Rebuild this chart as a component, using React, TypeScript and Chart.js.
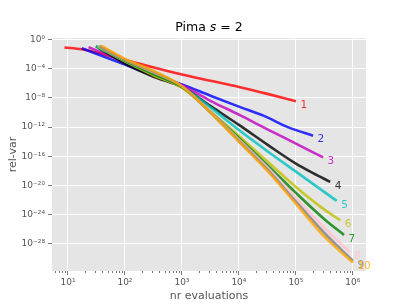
import { useEffect, useRef } from 'react';
import { Chart, registerables } from 'chart.js';

Chart.register(...registerables);

// ---- data (x = nr evaluations, y = log10 of rel-var) ----
const evals1 = [8.7, 17.5, 100, 1000, 3162, 1e4, 31623, 1e5];
const relVarLog1 = [-1.1, -1.35, -2.8, -4.8, -5.65, -6.5, -7.45, -8.45];

const evals2 = [17.5, 100, 316, 1000, 3162, 1e4, 26900, 74131, 2e5];
const relVarLog2 = [-1.2, -3.45, -4.9, -6.15, -7.7, -9.2, -10.43, -12.04, -13.18];

const evals3 = [23, 100, 316, 1000, 3162, 1e4, 31623, 1e5, 3e5];
const relVarLog3 = [-1.05, -3.1, -4.7, -6.25, -8.4, -10.3, -12.3, -14.25, -16.15];

const evals4 = [31, 100, 316, 1000, 3162, 1e4, 31623, 1e5, 2e5, 4e5];
const relVarLog4 = [-0.95, -3.3, -5.1, -6.5, -9.1, -11.7, -14.4, -17.0, -18.3, -19.5];

const evals5 = [31, 100, 316, 1000, 3162, 1e4, 31623, 1e5, 5.2e5];
const relVarLog5 = [-0.95, -3.0, -4.8, -6.5, -9.3, -12.4, -15.3, -18.1, -22.1];

const evals6 = [33, 100, 316, 1000, 3162, 1e4, 31623, 1e5, 3.16e5, 6e5];
const relVarLog6 = [-0.95, -3.0, -4.9, -6.6, -9.9, -13.2, -16.7, -20.2, -23.3, -24.75];

const evals7 = [35, 100, 316, 1000, 3162, 1e4, 31623, 1e5, 3.16e5, 7e5];
const relVarLog7 = [-0.9, -2.9, -4.7, -6.5, -9.9, -13.5, -17.2, -21.0, -24.6, -26.76];

const evals8 = [35, 100, 316, 1000, 3162, 1e4, 31623, 1e5, 3.16e5, 8.7e5];
const relVarLog8 = [-0.9, -2.8, -4.5, -6.4, -9.9, -13.7, -17.5, -21.7, -25.8, -29.1];

const evals9 = [36, 100, 316, 1000, 3162, 1e4, 31623, 1e5, 3.16e5, 1e6];
const relVarLog9 = [-0.9, -2.75, -4.4, -6.4, -10.0, -13.9, -17.8, -22.2, -26.5, -30.3];

const evals10 = [38, 100, 316, 1000, 3162, 1e4, 31623, 1e5, 3.16e5, 1e6];
const relVarLog10 = [-0.85, -2.65, -4.3, -6.4, -10.0, -14.0, -18.0, -22.5, -27.0, -30.55];

const seriesLabels = ['1', '2', '3', '4', '5', '6', '7', '8', '9', '10'];
const seriesEvals = [evals1, evals2, evals3, evals4, evals5, evals6, evals7, evals8, evals9, evals10];
const seriesRelVarLog = [
  relVarLog1, relVarLog2, relVarLog3, relVarLog4, relVarLog5,
  relVarLog6, relVarLog7, relVarLog8, relVarLog9, relVarLog10,
];
const seriesColors = [
  'rgba(255,0,0,0.8)',
  'rgba(0,0,255,0.8)',
  'rgba(191,0,191,0.8)',
  'rgba(0,0,0,0.8)',
  'rgba(0,191,191,0.8)',
  'rgba(191,191,0,0.8)',
  'rgba(0,128,0,0.8)',
  'rgba(255,192,203,0.8)',
  'rgba(128,128,128,0.8)',
  'rgba(255,165,0,0.8)',
];

const xTickExponents = [1, 2, 3, 4, 5, 6];
const yTickExponents = [0, -4, -8, -12, -16, -20, -24, -28];
const xRangeLog = [0.72, 6.23];
const yRangeLog = [-31.7, 0.2];

const titleMain = 'Pima ';
const titleVar = 's';
const titleRest = ' = 2';
const xTitle = 'nr evaluations';
const yTitle = 'rel-var';

const SUP: Record<string, string> = {
  '0': '⁰', '1': '¹', '2': '²', '3': '³', '4': '⁴', '5': '⁵',
  '6': '⁶', '7': '⁷', '8': '⁸', '9': '⁹', '-': '⁻',
};
const pow10Label = (v: number) => {
  const e = Math.round(Math.log10(v));
  return '10' + String(e).split('').map((c) => SUP[c] || c).join('');
};

const FONT = "'DejaVu Sans', sans-serif";

const decorPlugin = {
  id: 'decor',
  beforeDraw(chart: any) {
    const { ctx, chartArea } = chart;
    ctx.save();
    ctx.fillStyle = '#ffffff';
    ctx.fillRect(0, 0, chart.width, chart.height);
    ctx.fillStyle = '#E5E5E5';
    ctx.fillRect(chartArea.left, chartArea.top, chartArea.right - chartArea.left, chartArea.bottom - chartArea.top);
    ctx.restore();
  },
  afterDraw(chart: any) {
    const { ctx, chartArea, scales } = chart;
    const xs = scales.x;
    const ys = scales.y;
    ctx.save();
    // minor x ticks
    ctx.strokeStyle = '#555555';
    ctx.lineWidth = 0.8;
    for (let k = 0; k <= 6; k++) {
      for (let m = 2; m <= 9; m++) {
        const v = m * Math.pow(10, k);
        const px = xs.getPixelForValue(v);
        if (px < chartArea.left || px > chartArea.right) continue;
        ctx.beginPath();
        ctx.moveTo(Math.round(px) + 0.5, chartArea.bottom);
        ctx.lineTo(Math.round(px) + 0.5, chartArea.bottom + 2);
        ctx.stroke();
      }
    }
    // curve end labels
    ctx.font = `10.5px ${FONT}`;
    ctx.textAlign = 'left';
    ctx.textBaseline = 'middle';
    seriesLabels.forEach((lab, i) => {
      const ev = seriesEvals[i];
      const lg = seriesRelVarLog[i];
      const px = xs.getPixelForValue(ev[ev.length - 1]);
      const py = ys.getPixelForValue(Math.pow(10, lg[lg.length - 1]));
      ctx.fillStyle = seriesColors[i];
      ctx.fillText(lab, px + 4.5, py + 4);
    });
    // title with italic variable
    const cx = (chartArea.left + chartArea.right) / 2;
    ctx.fillStyle = '#000000';
    ctx.textBaseline = 'alphabetic';
    const fN = `12.5px ${FONT}`;
    const fI = `italic 12.5px ${FONT}`;
    ctx.font = fN;
    const w1 = ctx.measureText(titleMain).width;
    const w3 = ctx.measureText(titleRest).width;
    ctx.font = fI;
    const w2 = ctx.measureText(titleVar).width;
    let tx = cx - (w1 + w2 + w3) / 2;
    const ty = 31;
    ctx.font = fN;
    ctx.fillText(titleMain, tx, ty);
    tx += w1;
    ctx.font = fI;
    ctx.fillText(titleVar, tx, ty);
    tx += w2;
    ctx.font = fN;
    ctx.fillText(titleRest, tx, ty);
    // axis titles
    ctx.fillStyle = '#555555';
    ctx.font = `11px ${FONT}`;
    ctx.textAlign = 'center';
    ctx.fillText(xTitle, cx, 299);
    ctx.save();
    ctx.translate(16, (chartArea.top + chartArea.bottom) / 2);
    ctx.rotate(-Math.PI / 2);
    ctx.fillText(yTitle, 0, 0);
    ctx.restore();
    ctx.restore();
  },
};

export default function App() {
  const ref = useRef<HTMLCanvasElement>(null);
  useEffect(() => {
    if (!ref.current) return;
    const datasets = seriesLabels.map((lab, i) => ({
      label: lab,
      data: seriesEvals[i].map((x, j) => ({ x, y: Math.pow(10, seriesRelVarLog[i][j]) })),
      borderColor: seriesColors[i],
      backgroundColor: seriesColors[i],
      borderWidth: 2.6,
      pointRadius: 0,
      cubicInterpolationMode: 'monotone' as const,
      fill: false,
      order: seriesLabels.length - i,
    }));
    const chart = new Chart(ref.current, {
      type: 'line',
      data: { datasets },
      options: {
        animation: false,
        responsive: false,
        devicePixelRatio: 1,
        layout: { padding: { top: 38, right: 41, left: 0, bottom: 0 } },
        plugins: { legend: { display: false }, tooltip: { enabled: false }, title: { display: false } },
        scales: {
          x: {
            type: 'logarithmic',
            min: Math.pow(10, xRangeLog[0]),
            max: Math.pow(10, xRangeLog[1]),
            bounds: 'data',
            border: { display: false },
            grid: { color: '#ffffff', lineWidth: 1, tickLength: 4, tickColor: '#555555', tickWidth: 0.8 },
            ticks: {
              autoSkip: false,
              maxRotation: 0,
              padding: 2,
              color: '#555555',
              font: { family: FONT, size: 9 },
              callback: (v: any) => pow10Label(Number(v)),
            },
            afterBuildTicks: (scale: any) => {
              scale.ticks = xTickExponents.map((e) => ({ value: Math.pow(10, e) }));
            },
            afterFit: (scale: any) => {
              scale.height = 34;
            },
          },
          y: {
            type: 'logarithmic',
            min: Math.pow(10, yRangeLog[0]),
            max: Math.pow(10, yRangeLog[1]),
            bounds: 'data',
            border: { display: false },
            grid: { color: '#ffffff', lineWidth: 1, tickLength: 4, tickColor: '#555555', tickWidth: 0.8 },
            ticks: {
              autoSkip: false,
              padding: 3,
              color: '#555555',
              font: { family: FONT, size: 9 },
              callback: (v: any) => pow10Label(Number(v)),
            },
            afterBuildTicks: (scale: any) => {
              scale.ticks = yTickExponents.map((e) => ({ value: Math.pow(10, e) }));
            },
            afterFit: (scale: any) => {
              scale.width = 52;
            },
          },
        },
      },
      plugins: [decorPlugin],
    });
    return () => chart.destroy();
  }, []);
  return (
    <div style={{ position: 'fixed', left: 0, top: 0, width: 407, height: 305, background: '#fff' }}>
      <canvas ref={ref} width={407} height={305} style={{ width: 407, height: 305, display: 'block' }} />
    </div>
  );
}
